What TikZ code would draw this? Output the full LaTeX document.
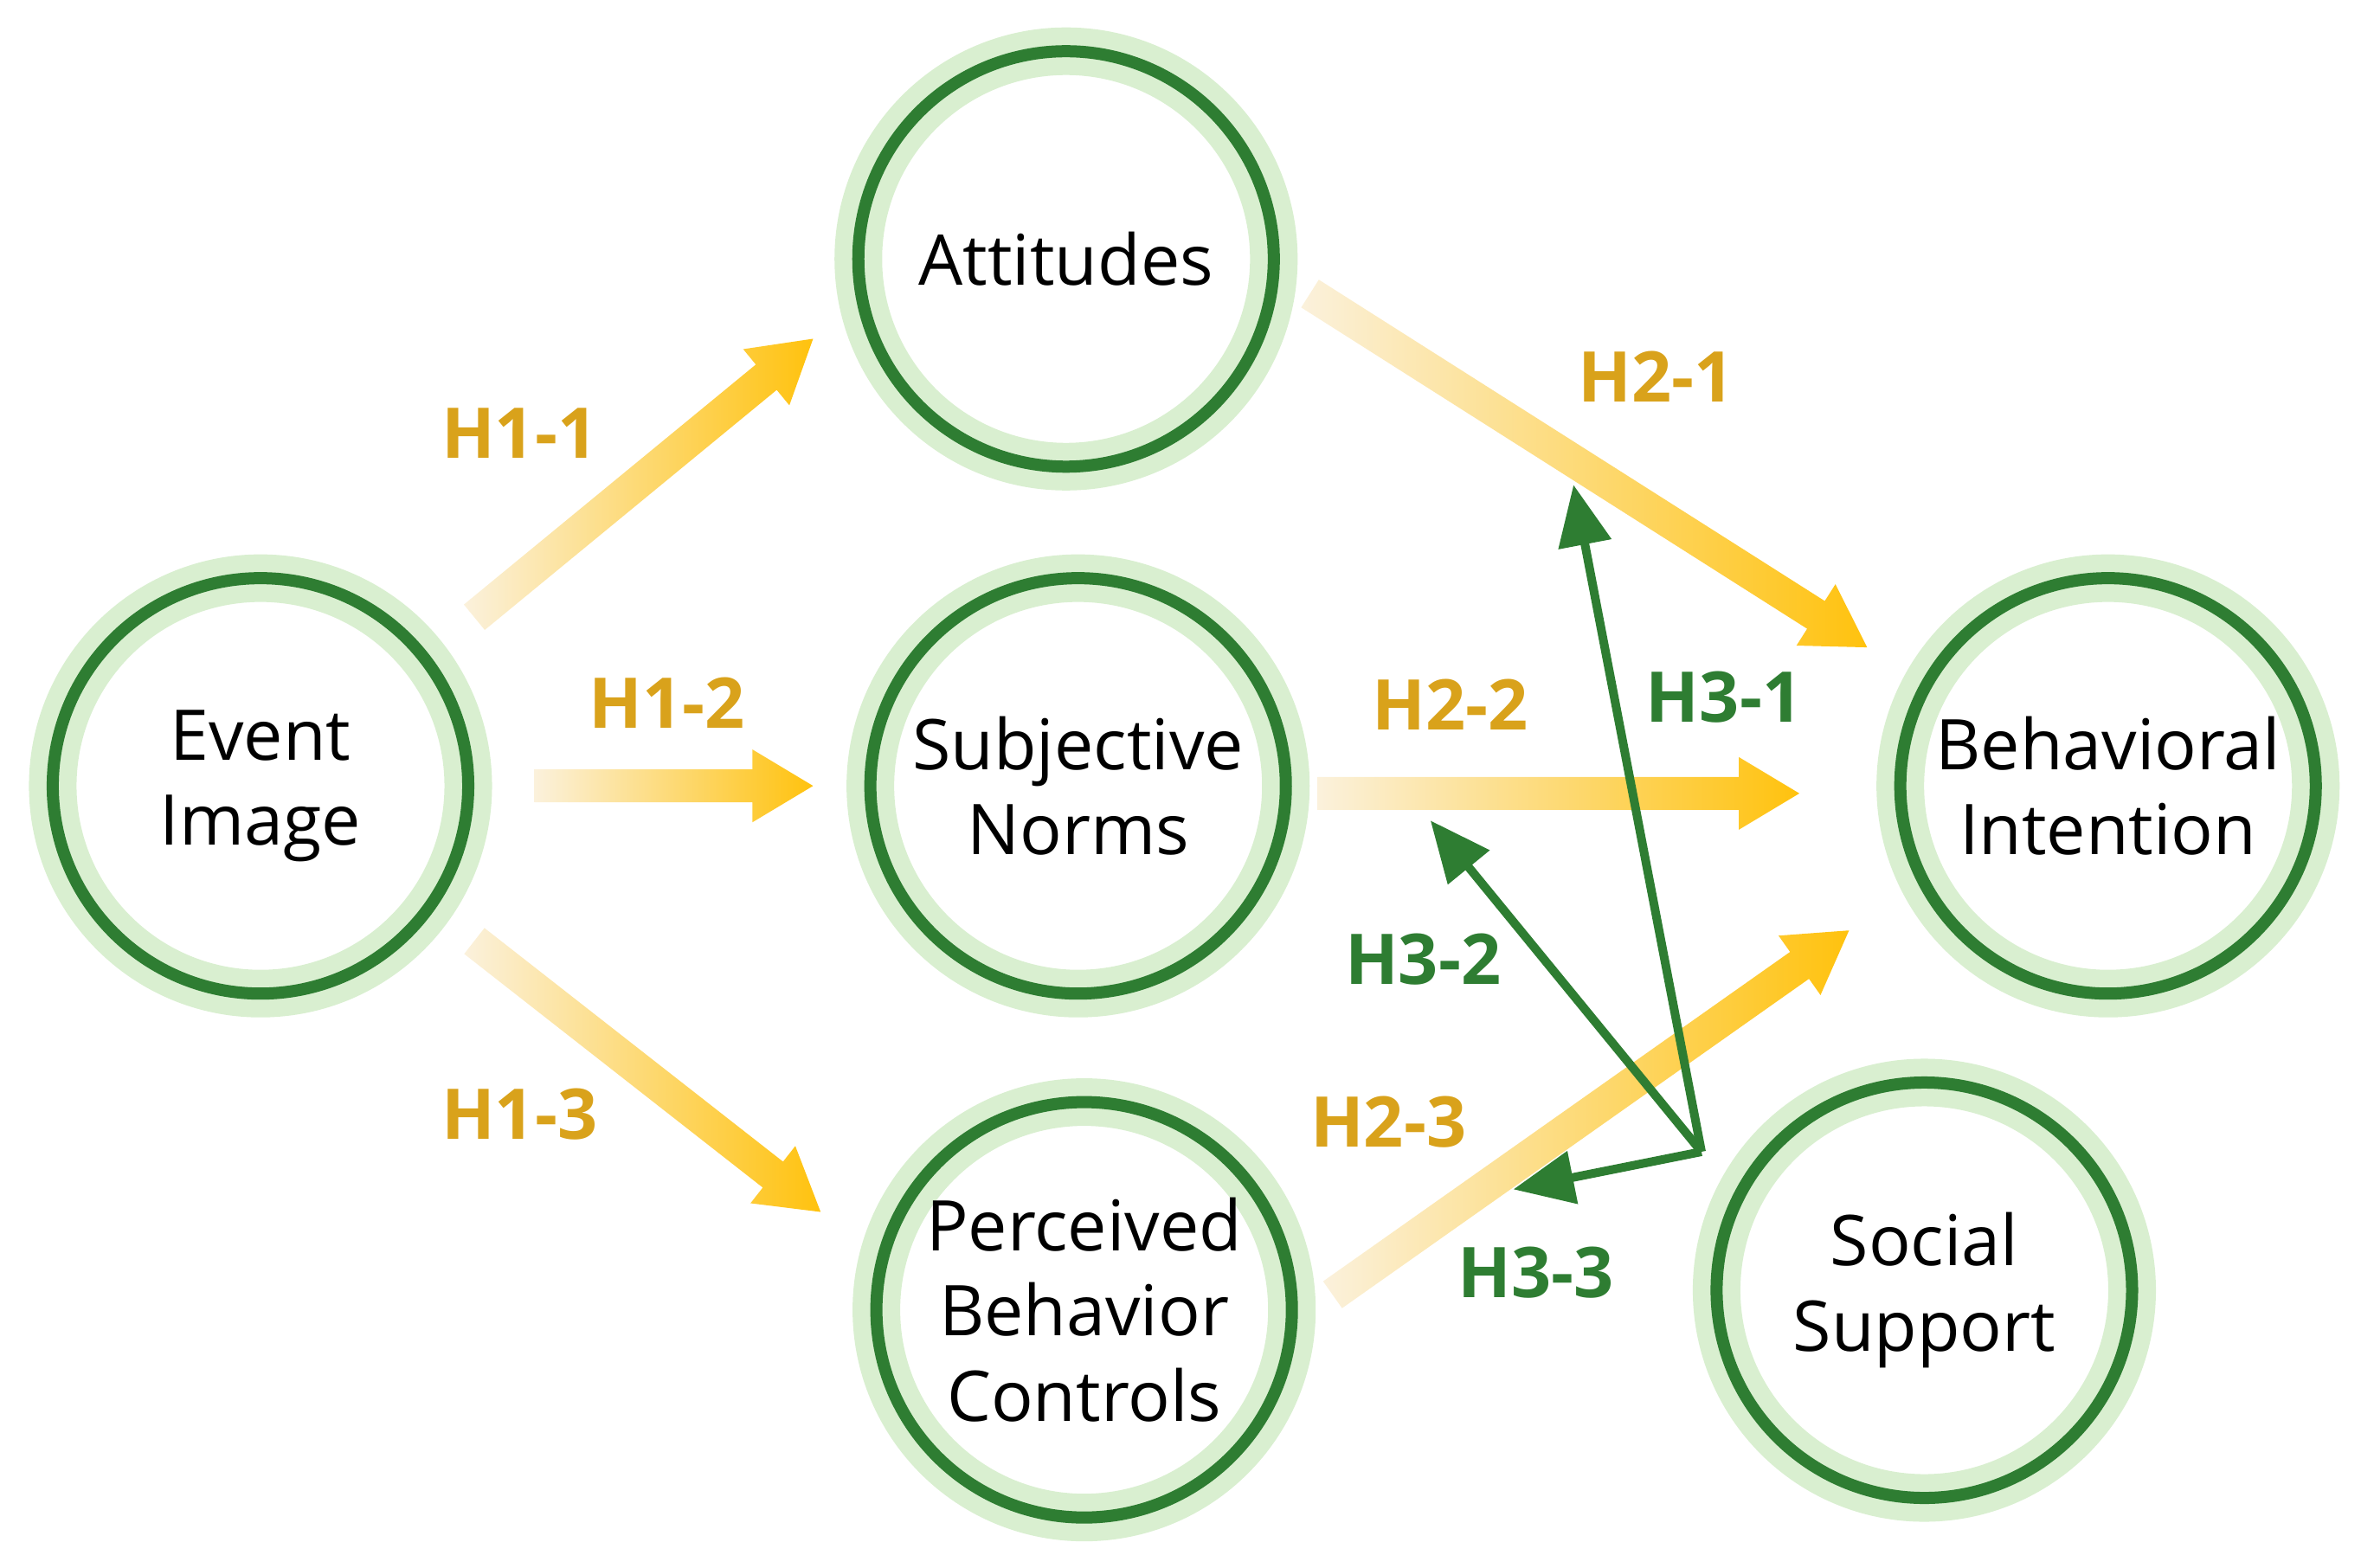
\documentclass[tikz,border=0pt]{standalone}
\usepackage{fontspec}
\setmainfont{Open Sans}
\usetikzlibrary{calc,arrows.meta}
\definecolor{dg}{HTML}{2E7D32}
\definecolor{lg}{HTML}{D9EFD0}
\definecolor{gold}{HTML}{D9A21B}
\definecolor{ora}{HTML}{F2A200}
\definecolor{yel}{HTML}{FFC20E}
\definecolor{pale}{HTML}{FBF1DC}
\tikzset{
 circ/.style={circle,draw=dg,line width=0.14cm,minimum size=4.8cm,inner sep=0pt,align=center,font=\fontsize{23}{28}\selectfont,
   preaction={draw=lg,line width=0.55cm}},
 hl/.style={text=gold,font=\bfseries\fontsize{23}{27}\selectfont},
 gl/.style={text=dg,font=\bfseries\fontsize{23}{27}\selectfont},
 garr/.style={draw=dg,line width=0.1cm,-{Triangle[length=0.7cm,width=0.6cm]}}
}
\newcommand\fatarrow[2]{%
 \path (#1) coordinate (fa1) (#2) coordinate (fa2);
 \pgfpointdiff{\pgfpointanchor{fa1}{center}}{\pgfpointanchor{fa2}{center}}%
 \pgfgetlastxy{\fdx}{\fdy}%
 \pgfmathsetmacro\fang{atan2(\fdy,\fdx)}%
 \pgfmathsetmacro\flen{veclen(\fdx,\fdy)}%
 \begin{scope}[shift={(fa1)},rotate=\fang]
 \shade[left color=pale,middle color=ora,right color=yel]
  (0,-0.19cm) -- ({\flen pt-0.7cm},-0.19cm) -- ({\flen pt-0.7cm},-0.42cm) -- ({\flen pt},0cm)
  -- ({\flen pt-0.7cm},0.42cm) -- ({\flen pt-0.7cm},0.19cm) -- (0,0.19cm) -- cycle;
 \end{scope}}
\begin{document}
\begin{tikzpicture}[x=0.0174cm,y=-0.0174cm]
\useasboundingbox (0,0) rectangle (1568,1041);
\node[circ] (ei) at (173,522) {Event\\Image};
\node[circ] (at) at (708,172) {Attitudes};
\node[circ] (sn) at (716,522) {Subjective\\Norms};
\node[circ] (pb) at (720,870) {Perceived\\Behavior\\Controls};
\node[circ] (bi) at (1400,522) {Behavioral\\Intention};
\node[circ] (ss) at (1278,857) {Social\\Support};
\coordinate (a1s) at (315,410); \coordinate (a1e) at (540,225);
\coordinate (a2s) at (355,522); \coordinate (a2e) at (540,522);
\coordinate (a3s) at (315,625); \coordinate (a3e) at (545,805);
\coordinate (b1s) at (870,195); \coordinate (b1e) at (1240,430);
\coordinate (b2s) at (875,527); \coordinate (b2e) at (1195,527);
\coordinate (b3s) at (885,860); \coordinate (b3e) at (1228,618);
\fatarrow{a1s}{a1e}\fatarrow{a2s}{a2e}\fatarrow{a3s}{a3e}
\fatarrow{b1s}{b1e}\fatarrow{b2s}{b2e}\fatarrow{b3s}{b3e}
\coordinate (hub) at (1130,765);
\coordinate (g1) at (1045,322); \coordinate (g2) at (950,545); \coordinate (g3) at (1005,790);
\draw[garr] (hub) -- (g1); \draw[garr] (hub) -- (g2); \draw[garr] (hub) -- (g3);
\node[hl] (l11) at (345,288) {H1-1};
\node[hl] (l12) at (443,467) {H1-2};
\node[hl] (l13) at (345,740) {H1-3};
\node[hl] (l21) at (1100,250) {H2-1};
\node[hl] (l22) at (963,468) {H2-2};
\node[hl] (l23) at (922,745) {H2-3};
\node[gl] (l31) at (1145,463) {H3-1};
\node[gl] (l32) at (945,637) {H3-2};
\node[gl] (l33) at (1020,845) {H3-3};
\end{tikzpicture}
\end{document}
